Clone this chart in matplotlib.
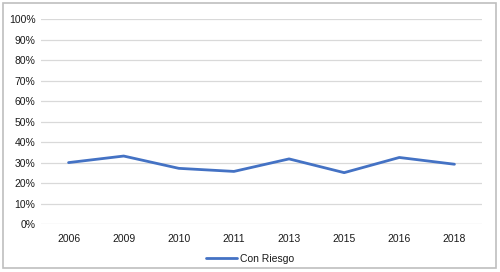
import matplotlib.pyplot as plt
from matplotlib.patches import Rectangle
from matplotlib.ticker import PercentFormatter

plt.rcParams['font.family'] = ['Liberation Sans', 'DejaVu Sans']

# values
years = ['2006', '2009', '2010', '2011', '2013', '2015', '2016', '2018']
con_riesgo = [0.30, 0.332, 0.272, 0.257, 0.318, 0.251, 0.325, 0.292]

fig = plt.figure(figsize=(5, 2.72), dpi=100)
ax = fig.add_axes([0.082, 0.176, 0.882, 0.754])

x = range(len(years))
ax.plot(x, con_riesgo, color='#4472C4', lw=2.0, label='Con Riesgo', solid_capstyle='round')

ax.set_xlim(-0.5, len(years) - 0.5)
ax.set_ylim(0, 1)
ax.set_yticks([i / 10 for i in range(11)])
ax.yaxis.set_major_formatter(PercentFormatter(1.0, decimals=0))
ax.set_xticks(list(x))
ax.set_xticklabels(years)
ax.grid(axis='y', color='#D9D9D9', lw=0.9)
ax.set_axisbelow(True)
for s in ax.spines.values():
    s.set_visible(False)
ax.tick_params(length=0, labelsize=7.5, labelcolor='#1a1a1a', pad=4)
ax.tick_params(axis='x', pad=7)

fig.legend(loc='lower center', bbox_to_anchor=(0.5, -0.005), frameon=False, fontsize=7.5,
           handlelength=3.0, handletextpad=0.3, labelcolor='#1a1a1a')

fig.patches.append(Rectangle((0.006, 0.013), 0.986, 0.975, transform=fig.transFigure,
                             fill=False, edgecolor='#BFBFBF', lw=1.2))

fig.savefig('out.png', dpi=100)
